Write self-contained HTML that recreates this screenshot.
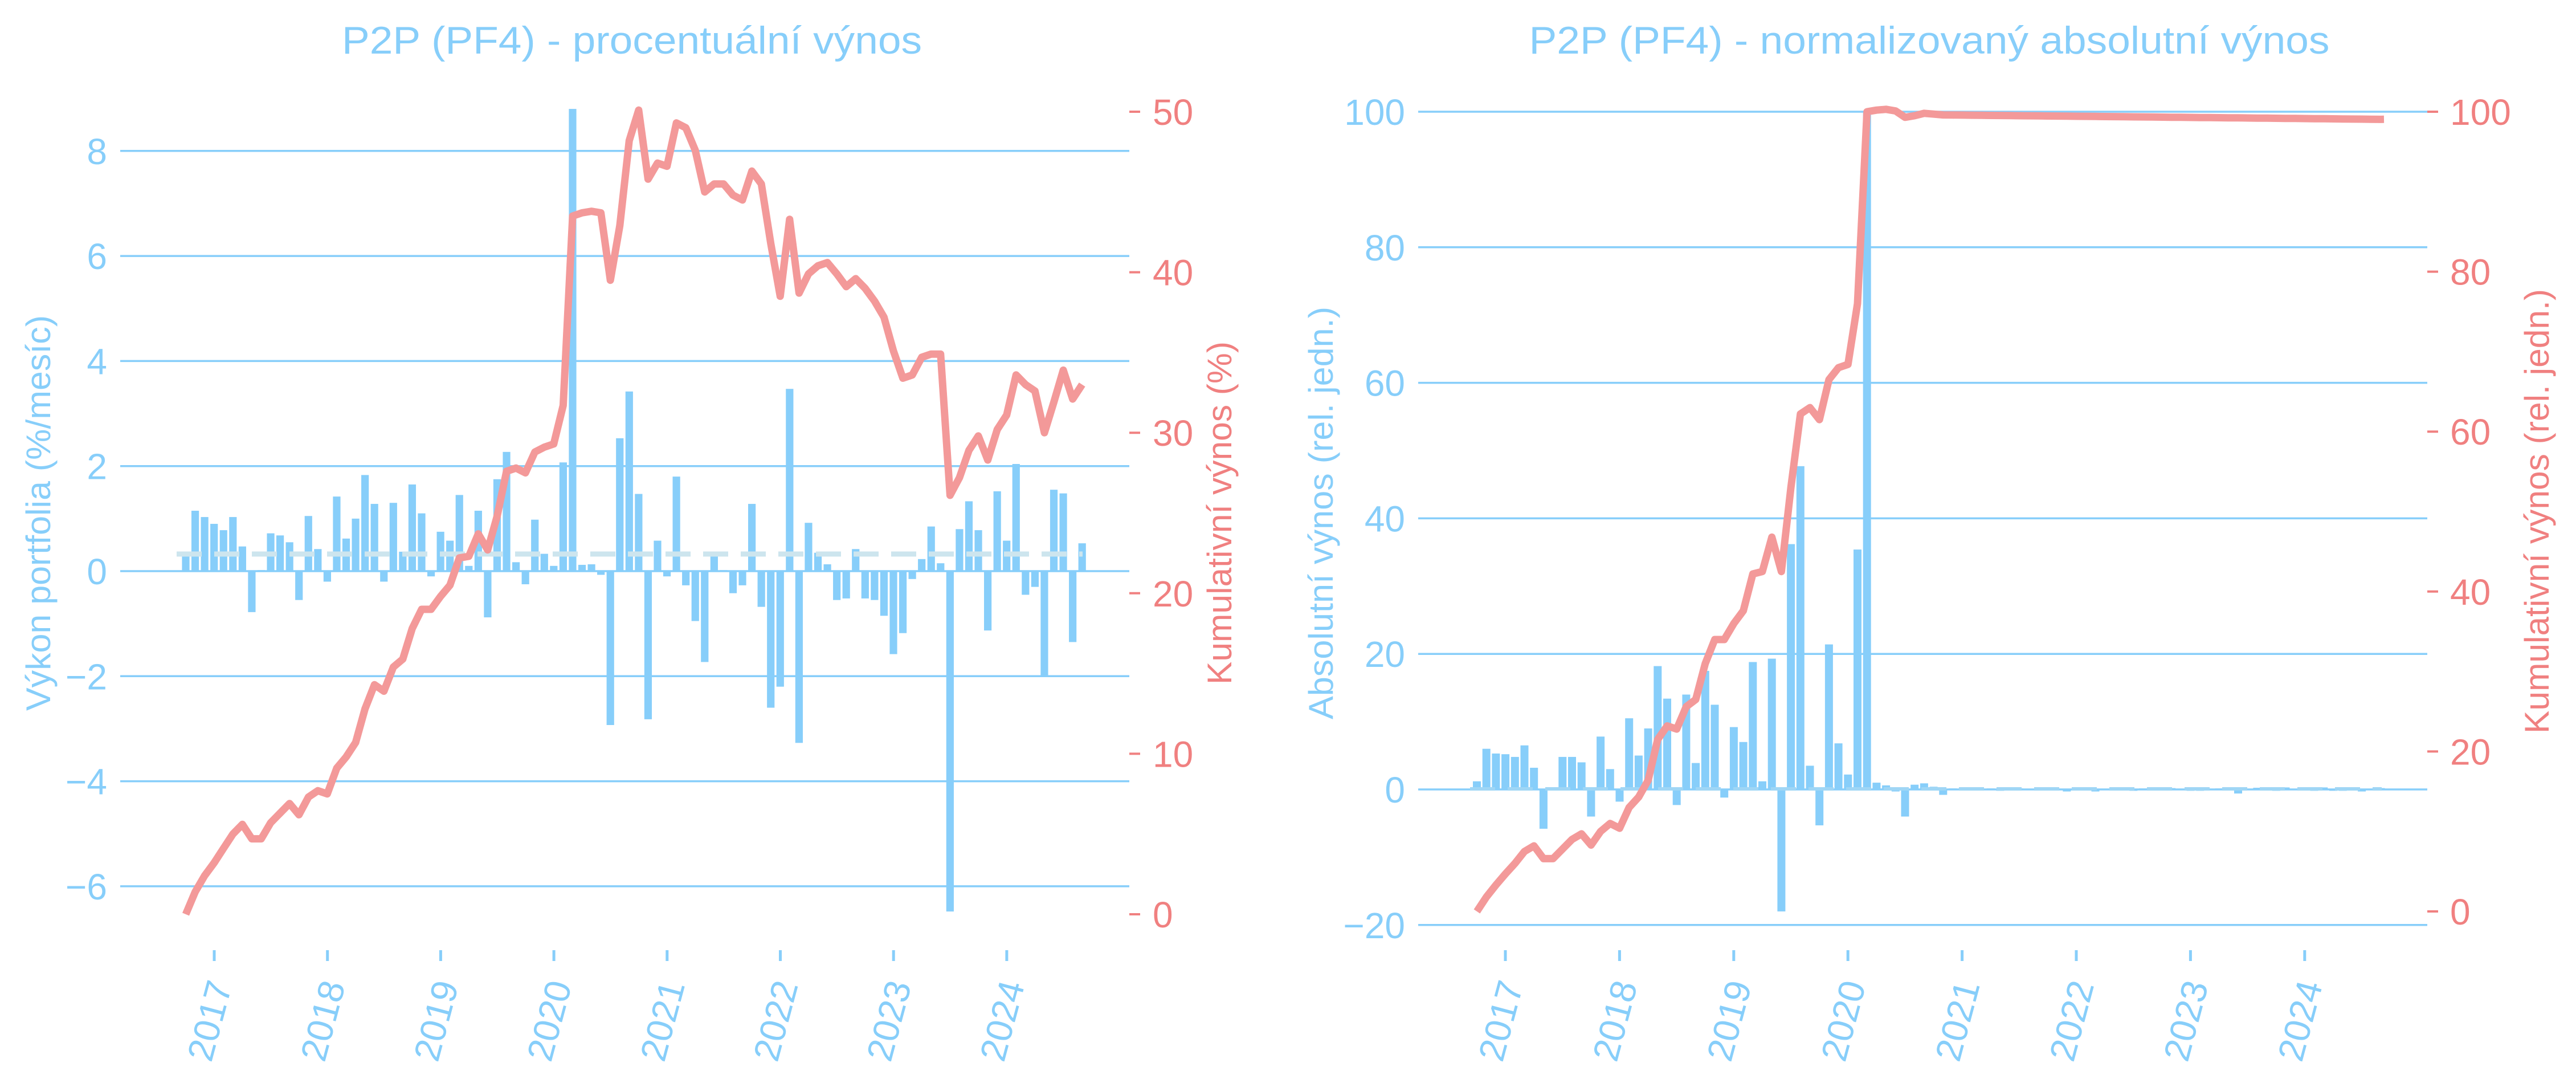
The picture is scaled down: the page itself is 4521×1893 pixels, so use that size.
<!DOCTYPE html>
<html><head><meta charset="utf-8"><style>
html,body{margin:0;padding:0;background:#fff;}
svg{display:block;}
text{font-family:"Liberation Sans",Arial,sans-serif;}
</style></head><body>
<svg id="s" xmlns="http://www.w3.org/2000/svg" width="4521" height="1893" viewBox="0 0 4521 1893">
<rect width="4521" height="1893" fill="#fff"/>
<text x="1109" y="94" font-size="68" fill="#87CEFA" text-anchor="middle" textLength="1018" lengthAdjust="spacingAndGlyphs">P2P (PF4) - procentuální výnos</text>
<text x="3386" y="94" font-size="68" fill="#87CEFA" text-anchor="middle" textLength="1405" lengthAdjust="spacingAndGlyphs">P2P (PF4) - normalizovaný absolutní výnos</text>
<text transform="translate(88,900) rotate(-90)" font-size="60" fill="#87CEFA" text-anchor="middle" textLength="694" lengthAdjust="spacingAndGlyphs">Výkon portfolia (%/mesíc)</text>
<text transform="translate(2161,900) rotate(-90)" font-size="60" fill="#F08080" text-anchor="middle" textLength="602" lengthAdjust="spacingAndGlyphs">Kumulativní výnos (%)</text>
<text transform="translate(2339,900) rotate(-90)" font-size="60" fill="#87CEFA" text-anchor="middle" textLength="724" lengthAdjust="spacingAndGlyphs">Absolutní výnos (rel. jedn.)</text>
<text transform="translate(4473,897) rotate(-90)" font-size="60" fill="#F08080" text-anchor="middle" textLength="780" lengthAdjust="spacingAndGlyphs">Kumulativní výnos (rel. jedn.)</text>
<g id="g"></g>
</svg>
<script>
var NS="http://www.w3.org/2000/svg",G=document.getElementById("g");
function el(t,a,txt){var e=document.createElementNS(NS,t);for(var k in a)e.setAttribute(k,a[k]);if(txt!==undefined)e.textContent=txt;G.appendChild(e);return e;}
var B="#87CEFA",R="#F08080",RL="#F39999";
var lb=[0.3,1.15,1.03,0.9,0.78,1.03,0.47,-0.78,0.02,0.72,0.68,0.55,-0.55,1.05,0.42,-0.2,1.42,0.62,1.0,1.83,1.28,-0.2,1.3,0.37,1.65,1.1,-0.1,0.75,0.58,1.45,0.1,1.15,-0.88,1.75,2.27,0.17,-0.25,0.98,0.33,0.1,2.07,8.8,0.12,0.13,-0.07,-2.93,2.53,3.42,1.47,-2.82,0.58,-0.1,1.8,-0.27,-0.95,-1.73,0.35,0.02,-0.42,-0.27,1.28,-0.68,-2.6,-2.2,3.47,-3.27,0.92,0.35,0.13,-0.55,-0.52,0.42,-0.52,-0.55,-0.85,-1.58,-1.18,-0.15,0.23,0.85,0.15,-6.48,0.8,1.33,0.78,-1.13,1.52,0.58,2.04,-0.45,-0.3,-2.0,1.55,1.48,-1.35,0.53];
var lc=[0,1.4,2.4,3.2,4.1,5.0,5.6,4.7,4.7,5.7,6.3,6.9,6.2,7.3,7.7,7.5,9.1,9.8,10.7,12.8,14.3,13.9,15.4,15.9,17.8,19.0,19.0,19.8,20.5,22.2,22.3,23.7,22.7,24.8,27.6,27.8,27.5,28.8,29.1,29.3,31.7,43.5,43.7,43.8,43.7,39.5,42.9,48.2,50.1,45.8,46.8,46.6,49.3,49.0,47.6,45.0,45.5,45.5,44.8,44.5,46.3,45.5,41.8,38.5,43.3,38.7,39.9,40.4,40.6,39.9,39.1,39.6,39.0,38.2,37.2,35.1,33.4,33.6,34.7,34.9,34.9,26.1,27.2,28.9,29.8,28.3,30.2,31.1,33.6,33.0,32.6,30.0,31.9,33.9,32.1,33.0];
var rb=[1.2,6.0,5.3,5.2,4.8,6.5,3.2,-5.8,0.1,4.8,4.8,4.0,-4.0,7.8,3.0,-1.8,10.5,5.0,9.0,18.2,13.4,-2.3,14.0,3.9,17.5,12.5,-1.2,9.2,7.0,18.8,1.2,19.3,-18.0,36.2,47.7,3.5,-5.3,21.4,6.8,2.2,35.4,100,1.0,0.6,-0.3,-4.0,0.7,0.9,0.4,-0.8];
var sm=[0.15,0.1,-0.15,0.1,0.15,-0.2,0.1,0.15,0.1,-0.15,0.2,0.1,-0.3,0.1,0.3,-0.3,0.1,0.15,0.1,-0.2,0.15,0.1,-0.15,0.2,0.1,-0.2,-0.2,0.1,0.15,0.1,-0.6,0.1,0.25,0.1,-0.2,0.3,0.1,0.3,-0.2,0.3,-0.2,-0.2,0.1,-0.3,0.1,0.2];
for(var i=0;i<46;i++)rb.push(sm[i]);
var rc=[0,1.8,3.3,4.7,6.0,7.5,8.2,6.6,6.6,7.8,9.0,9.7,8.3,10.0,11.0,10.4,13.0,14.3,16.4,21.5,23.2,22.8,25.6,26.5,31.0,34.0,34.0,36.0,37.6,42.2,42.5,46.8,42.5,53,62.2,63,61.5,66.5,68,68.4,76,100,100.2,100.3,100.1,99.3,99.5,99.8,99.7];
for(var i=49;i<96;i++)rc.push(99.6-(i-49)*0.012);
for(var v=-6;v<=8;v+=2){var y=1002-v*92.15;el("line",{x1:211,x2:1982,y1:y,y2:y,stroke:B,"stroke-width":3.5});
el("text",{x:188,y:y+23,"font-size":64,fill:B,"text-anchor":"end"},(v<0?"\u2212":"")+Math.abs(v));}
for(var v=0;v<=50;v+=10){var y=1604-v*28.16;el("line",{x1:1982,x2:2001,y1:y,y2:y,stroke:R,"stroke-width":4});
el("text",{x:2023,y:y+23,"font-size":64,fill:R},""+v);}
for(var i=0;i<96;i++){var x=326+i*16.56,v=lb[i],y0=1002,y1=1002-v*92.15;
el("rect",{x:x-6.6,y:Math.min(y0,y1),width:13.2,height:Math.max(Math.abs(y1-y0),1),fill:B});}
el("line",{x1:310,x2:1900,y1:972,y2:972,stroke:"#cde5ee","stroke-width":9,"stroke-dasharray":"44 22"});
var p="";for(var i=0;i<96;i++)p+=(i?"L":"M")+(326+i*16.56).toFixed(1)+","+(1604-lc[i]*28.16).toFixed(1);
el("path",{d:p,fill:"none",stroke:RL,"stroke-width":13,"stroke-linejoin":"round"});
for(var yr=0;yr<8;yr++){var x=376+yr*198.7;el("line",{x1:x,x2:x,y1:1667,y2:1686,stroke:B,"stroke-width":5});
el("text",{transform:"translate("+(x+10)+",1722) rotate(-75)","font-size":64,fill:B,"text-anchor":"end",dy:"0.35em"},""+(2017+yr));}
for(var v=-20;v<=100;v+=20){var y=1385-v*11.89;el("line",{x1:2489,x2:4260,y1:y,y2:y,stroke:B,"stroke-width":3.5});
el("text",{x:2466,y:y+23,"font-size":64,fill:B,"text-anchor":"end"},(v<0?"\u2212":"")+Math.abs(v));}
for(var v=0;v<=100;v+=20){var y=1599-v*14.03;el("line",{x1:4260,x2:4279,y1:y,y2:y,stroke:R,"stroke-width":4});
el("text",{x:4300,y:y+23,"font-size":64,fill:R},""+v);}
for(var i=0;i<96;i++){var x=2592+i*16.7,v=rb[i],y0=1385,y1=1385-v*11.89;
el("rect",{x:x-7,y:Math.min(y0,y1),width:14,height:Math.max(Math.abs(y1-y0),1),fill:B});}
el("line",{x1:2580,x2:4180,y1:1384,y2:1384,stroke:"#9fd6f5","stroke-width":6,"stroke-dasharray":"44 22"});
var p="";for(var i=0;i<96;i++)p+=(i?"L":"M")+(2592+i*16.7).toFixed(1)+","+(1599-rc[i]*14.03).toFixed(1);
p+="L4184,"+(1599-99.05*14.03).toFixed(1);
el("path",{d:p,fill:"none",stroke:RL,"stroke-width":13,"stroke-linejoin":"round"});
for(var yr=0;yr<8;yr++){var x=2642+yr*200.4;el("line",{x1:x,x2:x,y1:1667,y2:1686,stroke:B,"stroke-width":5});
el("text",{transform:"translate("+(x+10)+",1722) rotate(-75)","font-size":64,fill:B,"text-anchor":"end",dy:"0.35em"},""+(2017+yr));}
</script>
</body></html>
